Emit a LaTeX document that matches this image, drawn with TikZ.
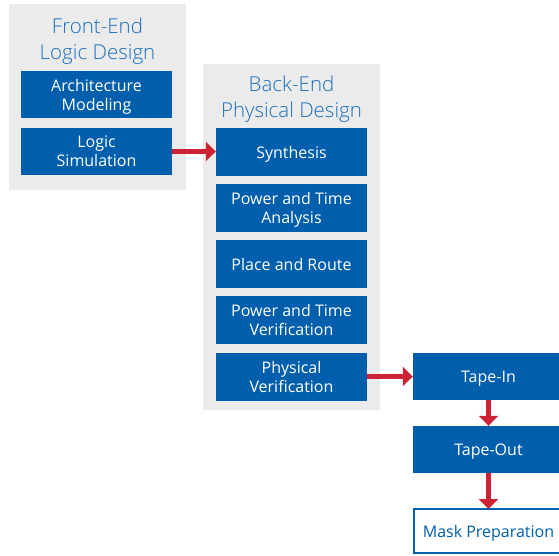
\documentclass[tikz,border=0pt]{standalone}
\usepackage{fontspec}
\setmainfont{Open Sans}
\newfontfamily\ttlfont{Open Sans Light}
\usetikzlibrary{arrows.meta}
\definecolor{ibox}{HTML}{005FAD}
\definecolor{ititle}{HTML}{1A6FBF}
\definecolor{ipanel}{HTML}{EBEBEB}
\definecolor{ired}{HTML}{CC2233}
\tikzset{
  panel/.style={fill=ipanel, draw=none, inner sep=0pt, anchor=north west},
  bbox/.style={fill=ibox, draw=none, text=white, minimum width=151pt, minimum height=48pt,
    inner sep=0pt, text depth=0pt, align=center, font=\fontsize{16}{19}\selectfont},
  ttl/.style={text=ititle, align=center, inner sep=0pt, font=\ttlfont\fontsize{20.5}{26}\selectfont},
  obox/.style={fill=white, draw=ibox, line width=2pt, text=ibox, minimum width=149pt, minimum height=44pt,
    inner sep=0pt, text depth=0pt, align=center, font=\fontsize{16}{19}\selectfont},
  flow/.style={draw=ired, line width=5pt, -{Triangle[width=19pt,length=10pt]}}
}
\begin{document}
\begin{tikzpicture}[x=1pt,y=-1pt]
\useasboundingbox (0,0) rectangle (559,555);
\clip (0,0) rectangle (559,555);
% panels
\node[panel, minimum width=177pt, minimum height=186pt] (front) at (9,4) {};
\node[panel, minimum width=177pt, minimum height=346pt] (back) at (203,64) {};
% titles
\node[ttl] (ftitle) at (97.5,41) {Front-End\\Logic Design};
\node[ttl] (btitle) at (291.5,99) {Back-End\\Physical Design};
% front-end boxes
\node[bbox, minimum height=47pt] (arch) at (96.5,94.5) {Architecture\\Modeling};
\node[bbox, minimum height=47pt] (lsim) at (96.5,151.5) {Logic\\Simulation};
% back-end boxes
\node[bbox] (synth) at (291.5,152) {Synthesis};
\node[bbox] (pta) at (291.5,208) {Power and Time\\Analysis};
\node[bbox] (par) at (291.5,264) {Place and Route};
\node[bbox] (ptv) at (291.5,320) {Power and Time\\Verification};
\node[bbox] (pv) at (291.5,376.5) {Physical\\Verification};
% right column
\node[bbox, minimum height=47pt] (tin) at (488.5,376.5) {Tape-In};
\node[bbox, minimum height=47pt] (tout) at (488.5,449.5) {Tape-Out};
\node[obox] (mask) at (488.5,531) {Mask Preparation};
% arrows
\draw[flow] (lsim.east) -- (synth.west |- lsim.east);
\draw[flow] (pv.east) -- (tin.west);
\draw[flow] (tin.south) -- (tout.north);
\draw[flow] (tout.south) -- ([yshift=-1pt]mask.north);
\end{tikzpicture}
\end{document}
